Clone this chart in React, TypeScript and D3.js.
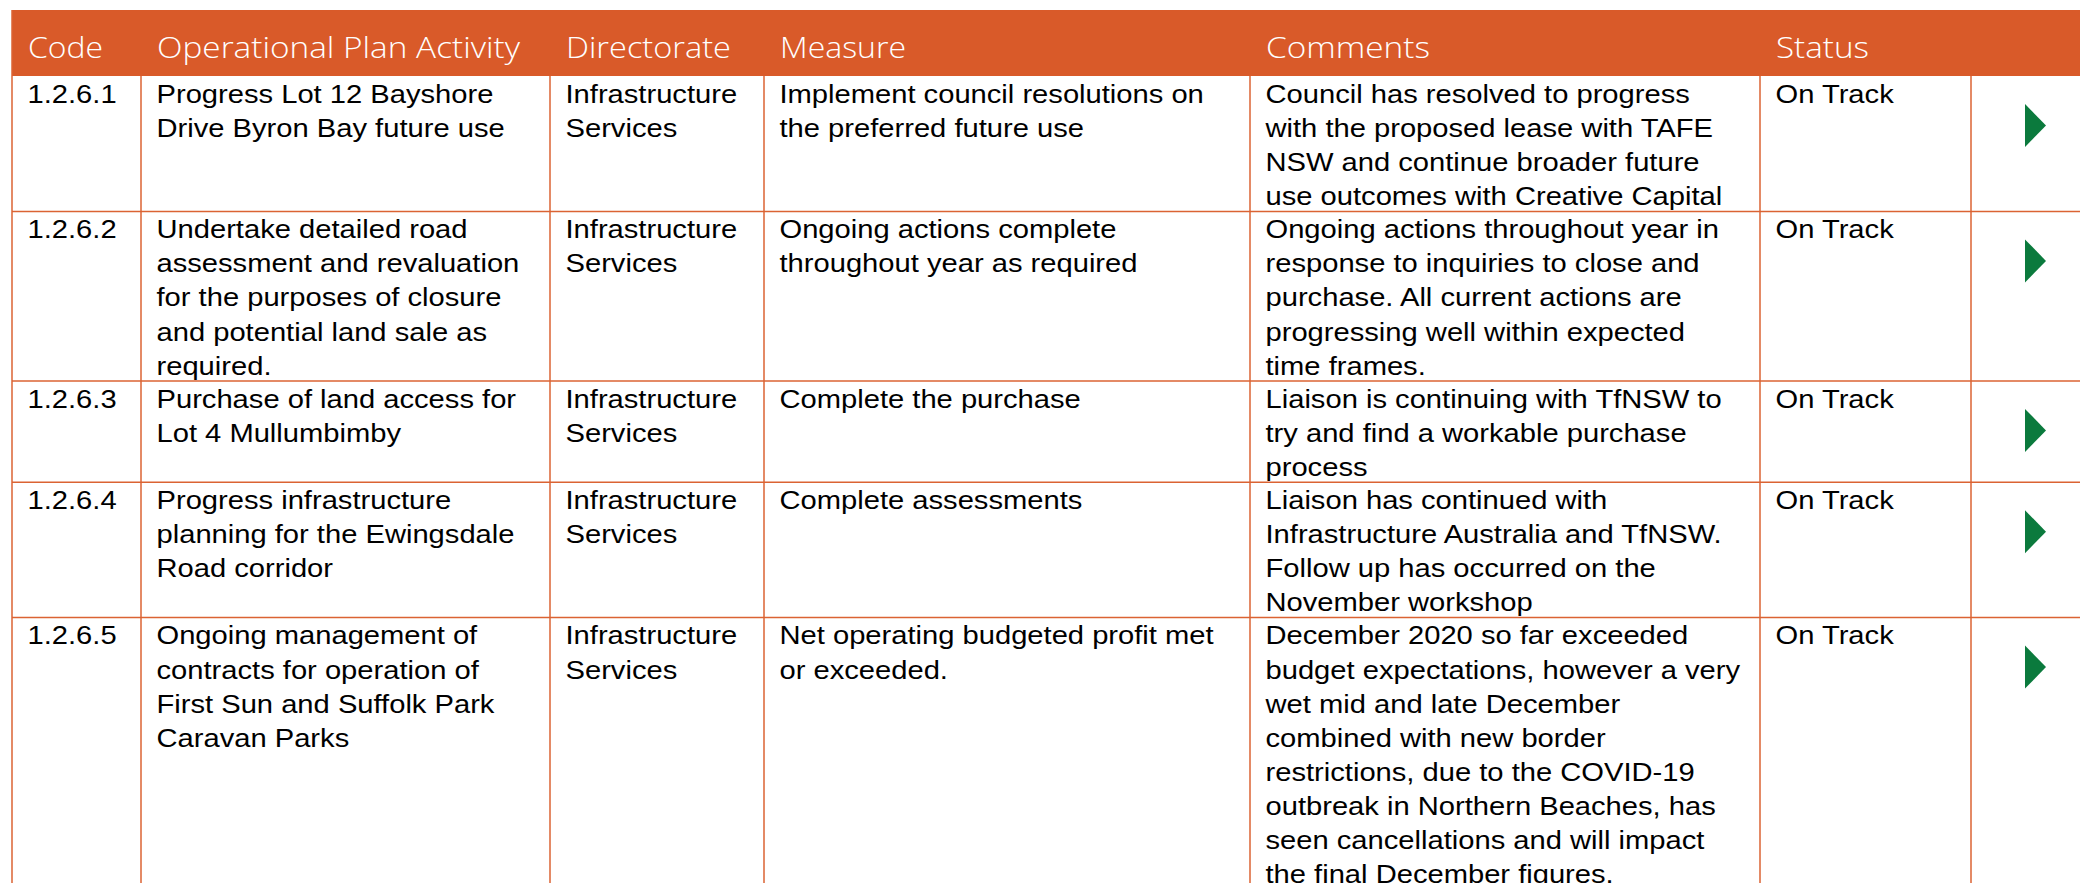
import * as d3 from "d3";

const WIDTH = 2080;
const HEIGHT = 883;

// table layout (px)
const COL_EDGES = [12, 141, 550, 764, 1250, 1760, 1971, 2080];
const HEADER_TOP = 10;
const HEADER_BOTTOM = 76;
const LINE_H = 34.1;
const PAD_X = 15.5;
const FIRST_BASELINE = 26.8;
const BODY_SIZE = 26.5;
const STRETCH = 1.1;

const ORANGE = "#D95A29";
const RULE = "#DB6333";
const GREEN = "#0B7A3D";

const headers = ["Code", "Operational Plan Activity", "Directorate", "Measure", "Comments", "Status"];
// measured widths of the header words
const headerWidths = [75, 363, 165, 126, 164, 93];

const codes = ["1.2.6.1", "1.2.6.2", "1.2.6.3", "1.2.6.4", "1.2.6.5"];

const activities = [
  ["Progress Lot 12 Bayshore", "Drive Byron Bay future use"],
  ["Undertake detailed road", "assessment and revaluation", "for the purposes of closure", "and potential land sale as", "required."],
  ["Purchase of land access for", "Lot 4 Mullumbimby"],
  ["Progress infrastructure", "planning for the Ewingsdale", "Road corridor"],
  ["Ongoing management of", "contracts for operation of", "First Sun and Suffolk Park", "Caravan Parks"],
];

const directorates = [
  ["Infrastructure", "Services"],
  ["Infrastructure", "Services"],
  ["Infrastructure", "Services"],
  ["Infrastructure", "Services"],
  ["Infrastructure", "Services"],
];

const measures = [
  ["Implement council resolutions on", "the preferred future use"],
  ["Ongoing actions complete", "throughout year as required"],
  ["Complete the purchase"],
  ["Complete assessments"],
  ["Net operating budgeted profit met", "or exceeded."],
];

const comments = [
  ["Council has resolved to progress", "with the proposed lease with TAFE", "NSW and continue broader future", "use outcomes with Creative Capital"],
  ["Ongoing actions throughout year in", "response to inquiries to close and", "purchase. All current actions are", "progressing well within expected", "time frames."],
  ["Liaison is continuing with TfNSW to", "try and find a workable purchase", "process"],
  ["Liaison has continued with", "Infrastructure Australia and TfNSW.", "Follow up has occurred on the", "November workshop"],
  ["December 2020 so far exceeded", "budget expectations, however a very", "wet mid and late December", "combined with new border", "restrictions, due to the COVID-19", "outbreak in Northern Beaches, has", "seen cancellations and will impact", "the final December figures."],
];

const statuses = ["On Track", "On Track", "On Track", "On Track", "On Track"];

export default function App() {
  const rows = codes.map((code, i) => ({
    cells: [[code], activities[i], directorates[i], measures[i], comments[i], [statuses[i]]],
  }));
  const lineCounts = rows.map((r) => d3.max(r.cells, (c) => c.length) ?? 1);
  const heights = lineCounts.map((n) => n * LINE_H - 1);
  const tops = [HEADER_BOTTOM, ...Array.from(d3.cumsum(heights)).map((h) => HEADER_BOTTOM + h)];

  const font = "'Liberation Sans', Arial, Helvetica, sans-serif";

  return (
    <div style={{ position: "absolute", left: 0, top: 0, width: WIDTH, height: HEIGHT, overflow: "hidden", background: "#fff" }}>
      <svg width={WIDTH} height={HEIGHT} viewBox={`0 0 ${WIDTH} ${HEIGHT}`}>
        <rect x={COL_EDGES[0]} y={HEADER_TOP} width={WIDTH - COL_EDGES[0]} height={HEADER_BOTTOM - HEADER_TOP} fill={ORANGE} />
        {headers.map((h, j) => (
          <text
            key={h}
            x={COL_EDGES[j] + 16}
            y={57.8}
            fill="#fff"
            fontFamily="'Open Sans', sans-serif"
            fontWeight={300}
            fontSize={29}
            textLength={headerWidths[j]}
            lengthAdjust="spacingAndGlyphs"
          >
            {h}
          </text>
        ))}

        {/* vertical rules */}
        {COL_EDGES.slice(0, -1).map((x, j) => (
          <line key={`v${j}`} x1={x} x2={x} y1={j === 0 ? HEADER_TOP : HEADER_BOTTOM} y2={HEIGHT} stroke={RULE} strokeWidth={1.5} />
        ))}
        {/* horizontal rules */}
        {tops.slice(1).map((y, i) => (
          <line key={`h${i}`} x1={COL_EDGES[0]} x2={WIDTH} y1={y} y2={y} stroke={RULE} strokeWidth={1.5} />
        ))}

        {rows.map((r, i) => (
          <g key={codes[i]}>
            {r.cells.map((lines, j) =>
              lines.map((t, k) => (
                <text
                  key={`${j}-${k}`}
                  transform={`translate(${COL_EDGES[j] + PAD_X},${tops[i] + FIRST_BASELINE + k * LINE_H}) scale(${STRETCH},1)`}
                  fontFamily={font}
                  fontSize={BODY_SIZE}
                  fill="#000"
                >
                  {t}
                </text>
              ))
            )}
            <path
              d={`M${COL_EDGES[6] + 54},${tops[i] + 28}L${COL_EDGES[6] + 75},${tops[i] + 49.5}L${COL_EDGES[6] + 54},${tops[i] + 71}Z`}
              fill={GREEN}
            />
          </g>
        ))}
      </svg>
    </div>
  );
}
